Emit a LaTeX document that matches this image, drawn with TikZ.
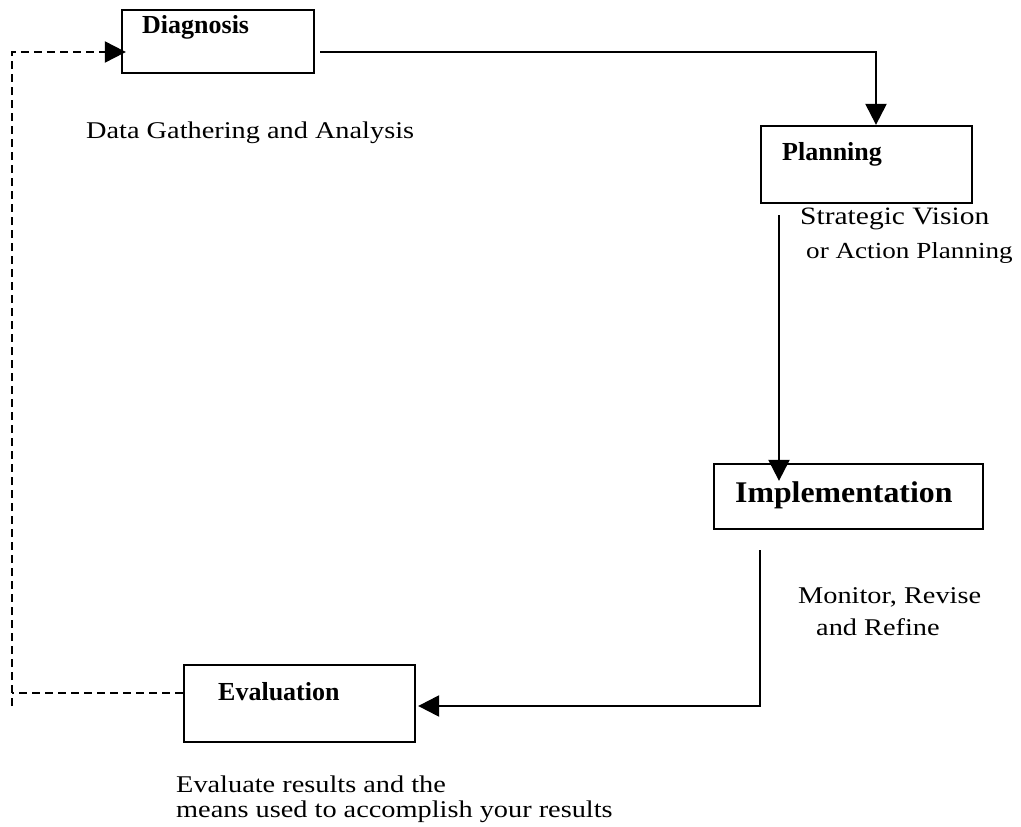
\documentclass[tikz,border=0pt]{standalone}
\usepackage{fontspec}
\setmainfont{Liberation Serif}
\newfontfamily\cam[FakeStretch=1.18]{Liberation Serif}
\newfontfamily\camb[FakeStretch=1.06]{Liberation Serif}
\usetikzlibrary{arrows.meta,calc}
\tikzset{
  box/.style={draw, line width=2.3pt, inner sep=0pt},
  boxlbl/.style={anchor=base west, inner sep=0pt, font=\fontsize{26}{30}\selectfont\bfseries},
  desc/.style={anchor=base west, inner sep=0pt, font=\cam\fontsize{24}{28}\selectfont},
  arr/.style={line width=2.3pt, -{Triangle[length=21pt,width=21pt]}},
  dashline/.style={line width=2.1pt, dash pattern=on 8pt off 5pt}
}
\begin{document}
\begin{tikzpicture}[x=1pt,y=-1pt]
\useasboundingbox (0,0) rectangle (1021,827);
% boxes
\node[box, minimum width=192pt, minimum height=63pt] (diag) at (218,41.5) {};
\node[box, minimum width=211pt, minimum height=77pt] (plan) at (866.5,164.5) {};
\node[box, minimum width=269pt, minimum height=65pt] (impl) at (848.5,496.5) {};
\node[box, minimum width=231pt, minimum height=77pt] (eval) at (299.5,703.5) {};
% box labels
\node[boxlbl] (diagt) at (142,34) {Diagnosis};
\node[boxlbl] (plant) at (782,160) {Planning};
\node[anchor=base west, inner sep=0pt, font=\camb\fontsize{30}{34}\selectfont\bfseries] (implt) at (735,502) {Implementation};
\node[boxlbl] (evalt) at (218,700) {Evaluation};
% descriptions
\node[desc] (d1) at (86,138) {Data Gathering and Analysis};
\node[desc, font=\cam\fontsize{25}{28}\selectfont] (p1) at (800,224) {Strategic Vision};
\node[desc, font=\cam\fontsize{23}{28}\selectfont] (p2) at (806,258) {or Action Planning};
\node[desc] (m1) at (798,603) {Monitor, Revise};
\node[desc] (m2) at (816,635) {and Refine};
\node[desc] (e1) at (176,792) {Evaluate results and the};
\node[desc] (e2) at (176,817) {means used to accomplish your results};
% connectors
\coordinate (c1) at (876,52);
\draw[arr] ($(diag.east |- c1)+(5,0)$) -- (c1) -- (c1 |- plan.north);
\draw[arr] ($(plan.south)+(-87.5,11)$) -- ($(impl.north)+(-69.5,18)$);
\draw[arr] ($(impl.south)+(-88.5,20)$) |- ($(eval.east)+(2,2.5)$);
\coordinate (dl) at (12,706);
\draw[dashline] ($(eval.west)+(0,-10.5)$) -- ($(eval.west -| dl)+(0,-10.5)$);
\draw[dashline, -{Triangle[length=21pt,width=21pt]}] (dl) |- ($(diag.west)+(5,10.5)$);
\end{tikzpicture}
\end{document}
